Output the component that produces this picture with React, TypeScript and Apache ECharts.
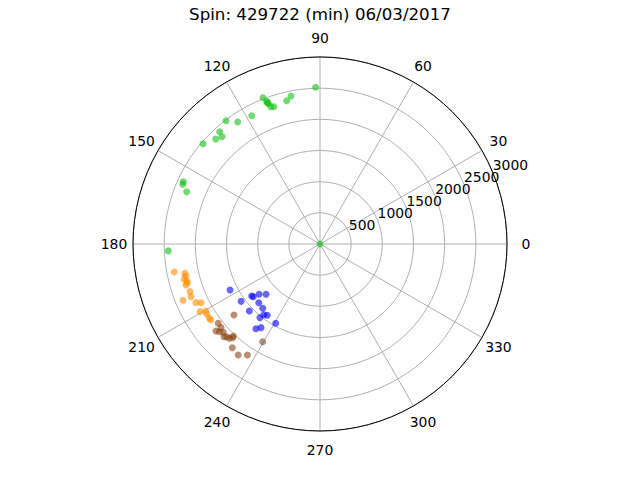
import React, { useEffect, useRef } from "react";
import * as echarts from "echarts";

const titleText = "Spin: 429722 (min) 06/03/2017";
const radiusTicks = [0, 500, 1000, 1500, 2000, 2500, 3000];
const angleTicks = [0, 30, 60, 90, 120, 150, 180, 210, 240, 270, 300, 330];

// [radius, angleDeg]
const greenPoints: number[][] = [
  [0, 0],
  [2515, 91.6], [2420, 101.1], [2360, 103.1], [2518, 111.3], [2438, 110.5],
  [2419, 110.4], [2404, 110.2], [2340, 109.7], [2324, 108.6], [2331, 118],
  [2361, 124], [2487, 127.3], [2415, 131.8], [2331, 132.4], [2374, 134.8],
  [2472, 139.4], [2410, 155.5], [2401, 156.5], [2297, 158.6], [2436, 182.6],
];
const orangePoints: number[][] = [
  [2380, 190.9], [2220, 192.2], [2209, 193.3], [2252, 194.4], [2218, 195.4],
  [2217, 196.3], [2248, 197.0], [2222, 200.1], [2235, 202.2], [2376, 202.3],
  [2201, 205.3], [2129, 206.3], [2210, 209.4], [2126, 210.4], [2134, 211.6],
  [2136, 213.8], [2135, 214.8],
];
const bluePoints: number[][] = [
  [1621, 207.1], [1377, 217.3], [1364, 218.3], [1268, 219.5], [1184, 223.0],
  [1565, 216.0], [1361, 223.8], [1562, 223.5], [1381, 228.3], [1447, 231.6],
  [1422, 233.5], [1524, 230.8], [1457, 240.8], [1703, 232.9], [1642, 234.8],
];
const brownPoints: number[][] = [
  [1789, 219.5], [2069, 217.9], [2079, 220.2], [2175, 219.9], [2142, 221.1],
  [2101, 222.4], [2141, 224.0], [2110, 224.8], [2099, 226.1], [2055, 227.0],
  [2028, 226.7], [2179, 229.8], [2211, 233.6], [2129, 236.8], [1817, 239.6],
];

const FONT = "DejaVu Sans";
const FS = 13.9;
const LH = 14;
const RADIUS = 187;
const LABEL_MARGIN = -9; // anchor inside the circle; padding pushes text out
const LABEL_DIST = 206; // distance of label centre from the pole

function angleRich() {
  const rich: Record<string, any> = {};
  const R = RADIUS + LABEL_MARGIN;
  const d = LABEL_DIST - R;
  angleTicks.forEach((v) => {
    const t = (v * Math.PI) / 180;
    const cx = Math.cos(t);
    const cy = Math.sin(t);
    const w = String(v).length * FS * 0.636;
    const dx = d * cx;
    const dy = d * cy;
    let pT = 0, pR = 0, pB = 0, pL = 0;
    if (Math.abs(cx) < 0.3) {
      if (dx > 0) pL = 2 * dx; else pR = -2 * dx;
    } else if (cx > 0) {
      pL = Math.max(0, dx - w / 2);
    } else {
      pR = Math.max(0, -dx - w / 2);
    }
    if (Math.abs(cy) >= 0.3) {
      if (cy > 0) pB = Math.max(0, 2 * dy - LH);
      else pT = Math.max(0, -2 * dy - LH);
    }
    rich["a" + v] = {
      fontFamily: FONT,
      fontSize: FS,
      color: "#000",
      lineHeight: LH,
      padding: [pT, pR, pB, pL],
    };
  });
  return rich;
}

export default function App() {
  const ref = useRef<HTMLDivElement>(null);
  useEffect(() => {
    if (!ref.current) return;
    const chart = echarts.init(ref.current, undefined, { renderer: "svg" });
    const center = [320, 244];
    const mk = (data: number[][], color: string) => ({
      type: "scatter",
      coordinateSystem: "polar",
      polarIndex: 0,
      symbolSize: 7,
      itemStyle: { color, opacity: 0.6 },
      data,
      z: 5,
    });
    const radLabel = (keep: (v: number) => boolean) => ({
      show: true,
      showMaxLabel: true,
      showMinLabel: true,
      hideOverlap: false,
      fontFamily: FONT,
      fontSize: FS,
      color: "#000",
      align: "left",
      verticalAlign: "bottom",
      margin: 0,
      rotate: 0,
      formatter: (v: number) => (keep(v) ? String(v) : ""),
    });
    const hiddenRadius = (idx: number, keep: (v: number) => boolean) => ({
      polarIndex: idx,
      type: "value",
      min: 0,
      max: 3000,
      interval: 500,
      axisLine: { show: false },
      axisTick: { show: false },
      splitLine: { show: false },
      axisLabel: radLabel(keep),
    });
    const hiddenAngle = (idx: number) => ({
      polarIndex: idx,
      type: "value",
      min: 0,
      max: 360,
      startAngle: 22.5,
      clockwise: false,
      show: false,
    });
    chart.setOption({
      animation: false,
      backgroundColor: "#ffffff",
      title: {
        text: titleText,
        left: "center",
        top: 1,
        textStyle: { fontFamily: FONT, fontSize: 16.67, fontWeight: "normal", color: "#000" },
      },
      polar: [
        { center, radius: RADIUS },
        { center, radius: RADIUS },
        { center, radius: RADIUS },
      ],
      angleAxis: [
        {
          polarIndex: 0,
          type: "value",
          min: 0,
          max: 360,
          interval: 30,
          startAngle: 0,
          clockwise: false,
          axisLine: { show: true, lineStyle: { color: "#000", width: 1 } },
          axisTick: { show: false },
          axisLabel: {
            margin: LABEL_MARGIN,
            fontFamily: FONT,
            fontSize: FS,
            color: "#000",
            formatter: (v: number) => (v >= 360 ? "" : "{a" + v + "|" + v + "}"),
            rich: angleRich(),
          },
          splitLine: { show: true, lineStyle: { color: "#b0b0b0", width: 1 } },
        },
        hiddenAngle(1),
        hiddenAngle(2),
      ],
      radiusAxis: [
        {
          polarIndex: 0,
          type: "value",
          min: 0,
          max: 3000,
          interval: 500,
          axisLine: { show: false },
          axisTick: { show: false },
          axisLabel: { show: false },
          splitLine: { show: true, lineStyle: { color: "#b0b0b0", width: 1 } },
        },
        hiddenRadius(1, (v) => v > 0 && v < 3000 && radiusTicks.indexOf(v) >= 0),
        hiddenRadius(2, (v) => v === 3000),
      ],
      series: [
        mk(greenPoints, "#14c014"),
        mk(orangePoints, "#ff8c00"),
        mk(bluePoints, "#0000ff"),
        mk(brownPoints, "#8b4513"),
      ],
    });
    return () => chart.dispose();
  }, []);
  return (
    <div
      ref={ref}
      style={{ position: "fixed", left: 0, top: 0, width: 640, height: 480 }}
    />
  );
}
